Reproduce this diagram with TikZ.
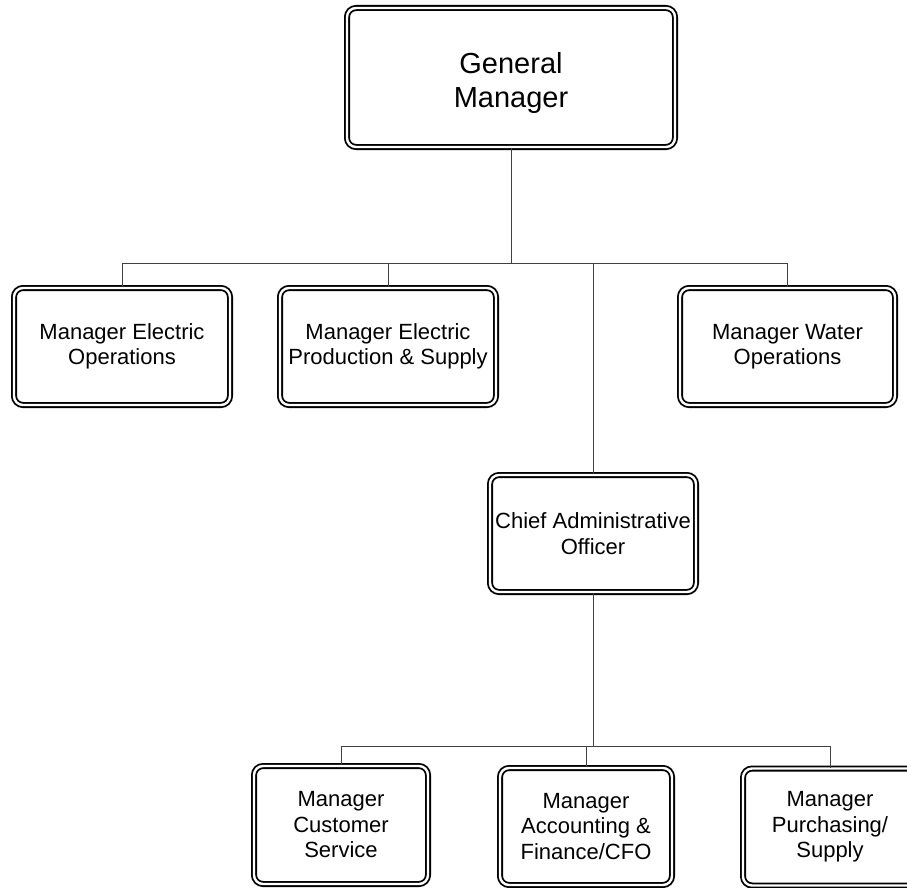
\documentclass[tikz,border=0pt]{standalone}
\usepackage{fontspec}
\setmainfont{Liberation Sans}
\begin{document}
\begin{tikzpicture}[x=1pt,y=-1pt,
  box/.style={draw=black, double=white, line width=1.8pt, double distance=2.4pt,
    rounded corners=9pt, inner sep=0pt, align=center, fill=white,
    font=\fontsize{22}{25.5}\selectfont},
  bigbox/.style={box, font=\fontsize{29}{34}\selectfont},
  link/.style={draw=black!75, line width=0.9pt}]
\useasboundingbox (0,0) rectangle (907,888);
% nodes
\node[bigbox, minimum width=328pt, minimum height=139pt] (gm) at (511,77.5) {\rule{0pt}{33pt}General\\Manager};
\node[box, minimum width=216pt, minimum height=117pt] (meo) at (122,346.5) {Manager Electric\\Operations};
\node[box, minimum width=216pt, minimum height=117pt] (meps) at (388,346.5) {Manager Electric\\Production \& Supply};
\node[box, minimum width=215pt, minimum height=117pt] (mwo) at (787.5,346.5) {Manager Water\\Operations};
\node[box, minimum width=206pt, minimum height=117pt] (cao) at (593,533.5) {Chief Administrative\\Officer};
\node[box, minimum width=174pt, minimum height=118pt] (mcs) at (341,825) {Manager\\Customer\\Service};
\node[box, minimum width=172pt, minimum height=117pt] (maf) at (586,826.5) {Manager\\Accounting \&\\Finance/CFO};
\node[box, minimum width=174pt, minimum height=117pt] (mps) at (830,827) {Manager\\Purchasing/\\Supply};
% buses
\coordinate (b1) at (511,263);
\coordinate (b2) at (593,746);
% connectors
\path[link] (gm.south) -- (gm.south |- b1);
\path[link] (meo.north) -- (meo.north |- b1) -- (mwo.north |- b1) -- (mwo.north);
\path[link] (meps.north) -- (meps.north |- b1);
\path[link] (cao.north) -- (cao.north |- b1);
\path[link] (cao.south) -- (cao.south |- b2);
\path[link] (mcs.north) -- (mcs.north |- b2) -- (mps.north |- b2) -- (mps.north);
\path[link] (maf.north) -- (maf.north |- b2);
\end{tikzpicture}
\end{document}
